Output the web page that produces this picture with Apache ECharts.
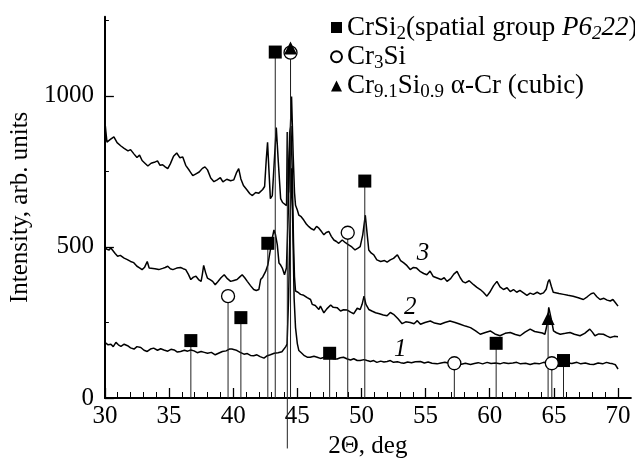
<!DOCTYPE html>
<html>
<head>
<meta charset="utf-8">
<script src="https://cdn.jsdelivr.net/npm/echarts@6/dist/echarts.min.js"></script>
<style>html,body{margin:0;padding:0;background:#fff}#c{width:635px;height:464px}</style>
</head>
<body>
<div id="c"></div>
<script>
// ---- data ----
const xMajorTicks = [30, 35, 40, 45, 50, 55, 60, 65, 70];
const xMinorTicks = [30,31,32,33,34,35,36,37,38,39,40,41,42,43,44,45,46,47,48,49,50,51,52,53,54,55,56,57,58,59,60,61,62,63,64,65,66,67,68,69,70];
const yMajorTicks = [0, 500, 1000];
const yMinorTicks = [250, 750, 1250];

const curve1 = [[30.0,184],[30.25,176],[30.47,178],[30.65,170],[30.86,184],[31.05,176],[31.25,171],[31.5,178],[31.77,173],[32.0,166],[32.27,162],[32.5,170],[32.8,167],[33.05,158],[33.3,154],[33.55,162],[33.8,165],[34.1,158],[34.35,163],[34.6,159],[34.9,155],[35.15,161],[35.4,159],[35.65,152],[35.9,154],[36.2,158],[36.45,155],[36.7,159],[36.95,156],[37.2,150],[37.5,154],[37.75,151],[38.0,148],[38.3,151],[38.6,143],[38.9,149],[39.16,154],[39.45,156],[39.7,162],[39.9,162],[40.1,160],[40.3,157],[40.55,151],[40.84,145],[41.1,147],[41.35,141],[41.6,140],[41.85,143],[42.1,137],[42.4,132],[42.66,140],[42.9,143],[43.2,148],[43.5,150],[43.8,153],[43.95,157],[44.1,170],[44.2,178],[44.32,330],[44.45,620],[44.55,760],[44.65,560],[44.75,330],[44.86,233],[45.0,180],[45.12,157],[45.35,148],[45.55,140],[45.77,135],[46.0,135],[46.3,138],[46.55,135],[46.8,131],[47.05,134],[47.33,140],[47.6,133],[47.85,130],[48.1,129],[48.35,133],[48.6,135],[48.9,129],[49.15,126],[49.4,130],[49.67,124],[49.9,124],[50.2,127],[50.44,124],[50.7,121],[50.95,124],[51.2,118],[51.5,122],[51.75,119],[52.0,121],[52.25,124],[52.5,118],[52.8,120],[53.05,117],[53.3,115],[53.6,119],[53.9,117],[54.2,120],[54.6,121],[54.9,116],[55.2,119],[55.5,115],[55.9,113],[56.2,116],[56.5,118],[56.9,114],[57.2,113],[57.5,116],[57.8,112],[58.1,115],[58.5,111],[58.8,114],[59.1,117],[59.45,113],[59.8,118],[60.1,114],[60.45,116],[60.8,113],[61.1,117],[61.45,114],[61.8,116],[62.1,118],[62.4,113],[62.8,115],[63.15,111],[63.5,115],[63.85,113],[64.2,118],[64.45,116],[64.7,132],[64.95,116],[65.2,112],[65.5,115],[65.75,113],[66.0,117],[66.4,114],[66.8,118],[67.1,113],[67.45,116],[67.8,112],[68.1,111],[68.45,116],[68.8,113],[69.1,118],[69.35,115],[69.6,113],[69.8,110],[70.0,96]];

const curve2 = [[30.0,501],[30.15,492],[30.33,490],[30.45,497],[30.6,494],[30.8,478],[30.99,469],[31.2,472],[31.5,463],[31.75,458],[32.0,452],[32.25,448],[32.5,436],[32.7,431],[32.9,425],[33.1,433],[33.3,452],[33.45,430],[33.6,425],[33.9,428],[34.2,425],[34.5,429],[34.7,432],[34.9,436],[35.1,428],[35.3,425],[35.6,430],[35.9,432],[36.1,428],[36.3,425],[36.5,410],[36.7,392],[36.9,400],[37.1,403],[37.3,392],[37.5,386],[37.6,410],[37.7,439],[37.85,415],[37.99,397],[38.2,392],[38.4,386],[38.6,375],[38.8,385],[39.05,398],[39.3,408],[39.55,395],[39.8,386],[40.05,389],[40.3,392],[40.5,400],[40.7,408],[40.9,398],[41.1,386],[41.35,372],[41.6,359],[41.8,356],[42.0,359],[42.14,392],[42.3,400],[42.53,419],[42.7,440],[42.9,490],[43.05,530],[43.18,556],[43.3,540],[43.44,507],[43.57,447],[43.7,440],[43.83,430],[44.0,408],[44.15,430],[44.3,620],[44.42,880],[44.5,900],[44.6,760],[44.7,520],[44.78,400],[44.86,354],[45.05,350],[45.25,343],[45.5,340],[45.77,332],[46.03,326],[46.16,310],[46.4,306],[46.68,293],[46.8,304],[47.07,282],[47.3,295],[47.6,308],[47.8,300],[48.1,299],[48.37,288],[48.6,292],[48.9,291],[49.15,284],[49.4,279],[49.67,297],[49.9,293],[50.05,310],[50.2,337],[50.35,310],[50.57,293],[50.85,287],[51.1,282],[51.4,279],[51.7,275],[52.0,272],[52.25,283],[52.5,277],[52.85,262],[53.17,246],[53.45,252],[53.8,250],[54.1,246],[54.35,256],[54.6,244],[54.95,250],[55.37,255],[55.7,248],[56.15,244],[56.5,250],[56.9,255],[57.3,250],[57.7,244],[58.1,238],[58.5,233],[58.9,222],[59.26,211],[59.6,216],[60.04,222],[60.4,212],[60.8,206],[61.2,214],[61.6,217],[62.0,210],[62.37,206],[62.75,218],[63.15,228],[63.5,220],[63.9,217],[64.1,215],[64.3,211],[64.48,245],[64.6,300],[64.68,304],[64.8,260],[64.97,222],[65.2,216],[65.5,211],[65.9,214],[66.26,217],[66.6,211],[67.04,206],[67.4,214],[67.8,228],[68.0,218],[68.2,206],[68.5,212],[68.86,211],[69.15,205],[69.4,200],[69.7,204],[70.0,203]];

const curve3 = [[30.0,916],[30.08,880],[30.16,847],[30.4,855],[30.7,864],[30.95,845],[31.25,834],[31.5,826],[31.8,818],[32.0,822],[32.26,808],[32.5,796],[32.7,804],[32.9,786],[33.1,778],[33.35,768],[33.6,777],[33.85,780],[34.1,785],[34.3,770],[34.5,772],[34.7,765],[34.9,759],[35.1,775],[35.35,800],[35.6,811],[35.85,795],[36.07,798],[36.3,770],[36.6,752],[36.85,736],[37.1,742],[37.35,748],[37.6,760],[37.8,765],[38.0,755],[38.25,728],[38.5,716],[38.75,722],[39.0,729],[39.2,715],[39.5,724],[39.8,719],[40.05,722],[40.25,745],[40.43,759],[40.6,725],[40.8,703],[41.05,690],[41.3,676],[41.5,670],[41.75,680],[42.0,678],[42.3,690],[42.45,700],[42.58,790],[42.68,846],[42.78,760],[42.9,660],[43.05,670],[43.2,780],[43.36,895],[43.52,780],[43.7,660],[43.85,647],[44.0,642],[44.16,637],[44.22,880],[44.32,680],[44.42,850],[44.55,998],[44.68,800],[44.78,680],[44.86,638],[45.0,622],[45.12,605],[45.3,600],[45.5,589],[45.7,576],[45.9,567],[46.1,560],[46.3,556],[46.5,568],[46.68,562],[46.9,550],[47.07,540],[47.25,548],[47.46,551],[47.65,535],[47.85,523],[48.05,518],[48.23,512],[48.5,523],[48.75,514],[49.0,507],[49.25,500],[49.5,490],[49.7,495],[49.9,501],[50.1,540],[50.3,605],[50.45,540],[50.57,490],[50.75,480],[50.96,474],[51.2,457],[51.5,452],[51.8,455],[52.0,450],[52.25,457],[52.5,462],[52.8,474],[53.05,455],[53.3,447],[53.55,438],[53.8,425],[54.05,432],[54.3,430],[54.6,418],[54.85,412],[55.1,408],[55.35,420],[55.6,402],[55.9,397],[56.2,392],[56.45,398],[56.67,386],[56.95,395],[57.2,410],[57.45,419],[57.7,398],[57.9,385],[58.1,381],[58.4,388],[58.74,375],[59.0,366],[59.26,359],[59.5,350],[59.78,337],[60.0,350],[60.3,372],[60.56,386],[60.8,368],[61.07,359],[61.35,365],[61.6,352],[61.85,359],[62.1,350],[62.35,356],[62.63,348],[62.9,340],[63.15,347],[63.4,343],[63.7,350],[63.95,344],[64.19,348],[64.4,360],[64.55,385],[64.65,392],[64.8,370],[64.95,350],[65.1,348],[65.4,346],[65.75,343],[66.1,340],[66.5,337],[66.9,332],[67.3,326],[67.6,335],[67.9,345],[68.1,348],[68.35,335],[68.6,326],[68.9,330],[69.15,324],[69.4,321],[69.6,326],[69.8,315],[70.0,304]];

// reflection markers (2Theta, intensity level of symbol)
const crSi2Peaks = [[36.7,190],[40.6,266],[42.7,512],[43.28,1145],[47.52,148],[50.26,718],[60.5,181],[65.75,124]];
const cr3SiPeaks = [[39.6,337],[44.47,1143],[48.93,547],[57.24,115],[64.84,115]];
const cr91Peaks  = [[44.47,1158],[64.55,263]];
const guideLine = [44.22, -167, 880];

const curveLabels = [['1', 53.03, 161], ['2', 53.8, 299], ['3', 54.8, 480]];

const FONT = 'Liberation Serif';
const legendNames = ['CrSi2', 'Cr3Si', 'Cr9.1Si0.9'];
const legendRich = {
  'CrSi2': '{t|CrSi}{s|2}{t|(spatial group }{i|P6}{is|2}{i|22}{t|)}',
  'Cr3Si': '{t|Cr}{s|3}{t|Si}',
  'Cr9.1Si0.9': '{t|Cr}{s|9.1}{t|Si}{s|0.9}{t| α-Cr (cubic)}'
};

const sticks = [];
[crSi2Peaks, cr3SiPeaks, cr91Peaks].forEach(arr => arr.forEach(p => sticks.push([p[0], 0, p[1]])));

function lineSeries(data, lbl) {
  return {
    type: 'line', data: data, symbol: 'none', showSymbol: false, silent: true,
    lineStyle: { color: '#000', width: 1.5 }, z: 2, animation: false,
    markPoint: {
      symbol: 'circle', symbolSize: 0, silent: true, animation: false,
      label: { show: true, position: 'inside', formatter: lbl[0], fontFamily: FONT, fontSize: 25, fontStyle: 'italic', color: '#000' },
      data: [{ coord: [lbl[1], lbl[2]] }]
    }
  };
}

const stickRender = function (params, api) {
  const x = api.value(0), a = api.value(1), b = api.value(2);
  const p0 = api.coord([x, a]), p1 = api.coord([x, b]);
  return { type: 'line', shape: { x1: p0[0], y1: p0[1], x2: p1[0], y2: p1[1] }, style: { stroke: '#222', lineWidth: 1 } };
};

const chart = echarts.init(document.getElementById('c'), null, { renderer: 'canvas' });
chart.setOption({
  animation: false,
  backgroundColor: '#fff',
  textStyle: { fontFamily: FONT },
  grid: { left: 104, right: 4.15, top: 16.7, bottom: 63, containLabel: false },
  legend: {
    data: legendNames, orient: 'vertical', left: 325, top: 9, itemGap: 0,
    itemWidth: 11, itemHeight: 11, selectedMode: false,
    formatter: name => legendRich[name],
    textStyle: {
      fontFamily: FONT, color: '#000',
      rich: {
        t: { fontFamily: FONT, fontSize: 27, lineHeight: 31.5, verticalAlign: 'middle', color: '#000' },
        s: { fontFamily: FONT, fontSize: 19, lineHeight: 15, verticalAlign: 'bottom', color: '#000' },
        i: { fontFamily: FONT, fontSize: 27, lineHeight: 31.5, verticalAlign: 'middle', fontStyle: 'italic', color: '#000' },
        is: { fontFamily: FONT, fontSize: 19, lineHeight: 15, verticalAlign: 'bottom', fontStyle: 'italic', color: '#000' }
      }
    }
  },
  xAxis: [{
    type: 'value', min: 30, max: 71, position: 'bottom',
    name: '2Θ, deg', nameLocation: 'middle', nameGap: 36,
    nameTextStyle: { fontFamily: FONT, fontSize: 25, color: '#000' },
    axisLine: { lineStyle: { color: '#000', width: 2 } },
    axisTick: { inside: true, length: 10, customValues: xMajorTicks, lineStyle: { color: '#000', width: 1.3 } },
    axisLabel: { customValues: xMajorTicks, formatter: v => String(v), fontFamily: FONT, fontSize: 25, color: '#000', margin: 6 },
    splitLine: { show: false }
  }, {
    type: 'value', min: 30, max: 71, position: 'bottom', offset: 0,
    axisLine: { show: false },
    axisTick: { inside: true, length: 6, customValues: xMinorTicks, lineStyle: { color: '#000', width: 1 } },
    axisLabel: { show: false }, splitLine: { show: false }
  }],
  yAxis: [{
    type: 'value', min: 0, max: 1262, position: 'left',
    name: 'Intensity, arb. units', nameLocation: 'middle', nameGap: 68,
    nameTextStyle: { fontFamily: FONT, fontSize: 25, color: '#000' },
    axisLine: { show: true, lineStyle: { color: '#000', width: 2 } },
    axisTick: { show: true, inside: true, length: 9, customValues: yMajorTicks, lineStyle: { color: '#000', width: 1.3 } },
    axisLabel: { customValues: yMajorTicks, formatter: v => String(v), fontFamily: FONT, fontSize: 25, color: '#000', margin: 11 },
    splitLine: { show: false }
  }, {
    type: 'value', min: 0, max: 1262, position: 'left', offset: 0,
    axisLine: { show: false },
    axisTick: { show: true, inside: true, length: 4, customValues: yMinorTicks, lineStyle: { color: '#000', width: 1 } },
    axisLabel: { show: false }, splitLine: { show: false }
  }],
  series: [
    lineSeries(curve1, curveLabels[0]),
    lineSeries(curve2, curveLabels[1]),
    lineSeries(curve3, curveLabels[2]),
    { type: 'custom', renderItem: stickRender, data: sticks, clip: false, silent: true, z: 3, animation: false },
    { type: 'custom', renderItem: stickRender, data: [guideLine], clip: false, silent: true, z: 3, animation: false },
    { name: 'CrSi2', type: 'scatter', data: crSi2Peaks, symbol: 'rect', symbolSize: 13, z: 5, silent: true,
      itemStyle: { color: '#000', borderColor: '#000', borderWidth: 0, opacity: 1 } },
    { name: 'Cr3Si', type: 'scatter', data: cr3SiPeaks, symbol: 'circle', symbolSize: 13, z: 5, silent: true,
      itemStyle: { color: '#fff', borderColor: '#000', borderWidth: 1.3, opacity: 1 } },
    { name: 'Cr9.1Si0.9', type: 'scatter', data: cr91Peaks, symbol: 'triangle', symbolSize: 13, z: 6, silent: true,
      itemStyle: { color: '#000', borderColor: '#000', borderWidth: 0, opacity: 1 } }
  ]
});
</script>
</body>
</html>
